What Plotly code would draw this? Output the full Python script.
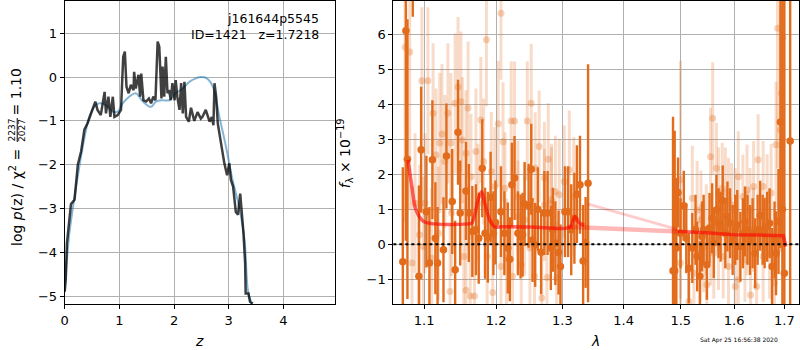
import plotly.graph_objects as go
import math

# ---------------- Left panel data: log p(z) ----------------
z_grid = [0.00, 0.02, 0.04, 0.085, 0.115, 0.18, 0.24, 0.30, 0.36, 0.42,
          0.48, 0.56, 0.60, 0.66, 0.73, 0.755, 0.80, 0.835, 0.88, 0.91,
          0.97, 1.03, 1.07, 1.10, 1.13, 1.17, 1.21, 1.26, 1.27, 1.30,
          1.35, 1.38, 1.40, 1.44, 1.49, 1.54, 1.58, 1.62, 1.66, 1.70,
          1.73, 1.75, 1.77, 1.79, 1.82, 1.85, 1.88, 1.91, 1.94, 1.97,
          2.01, 2.03, 2.06, 2.10, 2.13, 2.16, 2.19, 2.22, 2.27, 2.31,
          2.37, 2.43, 2.49, 2.52, 2.58, 2.65, 2.69, 2.72, 2.74, 2.77,
          2.80, 2.83, 2.88, 2.92, 2.97, 3.01, 3.04, 3.08, 3.13, 3.17,
          3.21, 3.24, 3.27, 3.30, 3.31, 3.36, 3.39, 3.44]
log_pz = [-4.9, -4.6, -3.8, -3.2, -2.9, -2.8, -2.0, -1.7, -1.2, -1.05,
          -0.83, -0.56, -0.75, -0.87, -0.34, -0.83, -0.45, -0.91, -0.45, -0.91,
          -0.87, -0.75, 0.46, 0.58, -0.22, -0.37, -0.18, -0.30, 0.12, -0.26,
          0.05, -0.45, 0.08, -0.53, -0.56, -0.49, -0.60, -0.45, -0.53, 0.81,
          0.69, 0.24, -0.49, 0.24, -0.45, 0.46, -0.37, -0.30, -0.53, -0.14,
          -0.53, -0.07, -0.45, -0.75, -0.14, -0.83, -0.11, -0.91, -1.02, -0.70,
          -1.00, -0.80, -0.95, -0.91, -0.75, -1.02, -0.91, -1.10, -0.14, -0.45,
          -1.06, -1.29, -1.67, -1.97, -2.24, -1.97, -2.35, -2.50, -3.08, -3.14,
          -2.66, -3.11, -3.57, -4.25, -4.94, -4.94, -5.13, -5.17]

z_fit = [0.00, 0.02, 0.085, 0.21, 0.33, 0.45, 0.54, 0.63, 0.755, 0.88,
         0.97, 1.06, 1.18, 1.30, 1.43, 1.58, 1.67, 1.79, 1.91, 2.03,
         2.16, 2.28, 2.40, 2.49, 2.60, 2.71, 2.83, 2.95, 3.07, 3.19,
         3.29, 3.35, 3.42]
log_pz_fit = [-4.9, -4.5, -3.57, -2.5, -1.59, -0.91, -0.68, -0.60, -0.64, -0.79,
              -0.79, -0.60, -0.45, -0.37, -0.56, -0.68, -0.56, -0.53, -0.53, -0.37,
              -0.26, -0.11, -0.03, 0.0, -0.03, -0.22, -0.91, -1.59, -2.35, -2.96,
              -3.72, -4.86, -5.2]

z_ticks = [0, 1, 2, 3, 4]
pz_ticks = [-5, -4, -3, -2, -1, 0, 1]

# ---------------- Right panel data: spectrum ----------------
g102_wave = [1.072, 1.076, 1.078, 1.085, 1.093, 1.096, 1.103, 1.107, 1.111, 1.115,
             1.118, 1.126, 1.130, 1.138, 1.142, 1.146, 1.149, 1.157, 1.161, 1.166,
             1.171, 1.175, 1.180, 1.184, 1.188, 1.192, 1.196, 1.199, 1.207, 1.212,
             1.217, 1.220, 1.223, 1.227, 1.232, 1.236, 1.239, 1.242, 1.248, 1.252,
             1.254, 1.258, 1.262, 1.267, 1.272, 1.277, 1.282, 1.285, 1.289, 1.294,
             1.297, 1.304, 1.309, 1.314, 1.319, 1.323, 1.328, 1.333, 1.337, 1.341]
g102_flux = [-0.5, 6.10, 2.43, 7.5, -0.92, 2.70, 0.93, -0.54, 2.41, 0.17,
             -0.54, -0.16, 2.52, 1.22, -0.73, 3.20, 0.89, 1.52, 0.89, 0.36,
             0.41, 0.17, 2.17, 0.31, 0.20, 1.34, 0.31, 0.62, 0.93, 0.31,
             -0.11, -0.43, 1.70, 1.89, 0.31, 0.22, 0.27, 1.15, 1.10, 2.14,
             0.12, -0.02, 1.00, -0.23, 0.89, 0.89, -0.11, 0.41, 0.03, -0.24,
             -0.64, 0.93, 0.93, 0.41, 0.74, 1.43, 1.70, -0.48, 0.05, 1.74]
g102_err = [2.7, 6.0, 4.0, 1.0, 2.6, 1.8, 1.6, 1.6, 1.7, 1.6,
            1.6, 1.5, 1.5, 1.5, 1.4, 1.5, 1.5, 1.4, 1.4, 1.3,
            1.3, 1.3, 1.4, 1.3, 1.3, 1.3, 1.2, 1.2, 1.3, 1.2,
            1.3, 1.2, 1.2, 1.2, 1.2, 1.2, 1.2, 1.2, 1.2, 1.3,
            1.2, 1.2, 1.2, 1.2, 1.2, 1.2, 1.2, 1.2, 1.2, 1.2,
            1.2, 1.3, 1.3, 1.3, 1.3, 1.4, 1.4, 1.6, 1.3, 3.4]

g141_wave = [1.486, 1.489, 1.492, 1.495, 1.4995, 1.5055, 1.510, 1.5145, 1.521, 1.527,
             1.530, 1.535, 1.539, 1.542, 1.548, 1.553, 1.558, 1.561, 1.566, 1.570,
             1.574, 1.578, 1.583, 1.587, 1.592, 1.597, 1.602, 1.606, 1.612, 1.617,
             1.621, 1.626, 1.631, 1.636, 1.641, 1.646, 1.651, 1.656, 1.660, 1.665,
             1.670, 1.675, 1.680, 1.683, 1.688, 1.692, 1.696, 1.700, 1.712]
g141_flux = [-0.76, -0.76, -0.11, 1.48, 0.31, 1.10, 0.17, -0.69, -0.11, 0.41,
             -0.35, -0.92, 0.22, 0.41, -0.59, 0.46, 0.74, 0.03, 0.98, 0.60,
             0.50, 1.25, 0.31, 0.79, 0.60, 0.12, 0.41, 0.55, -0.07, 0.31,
             0.65, 0.41, 0.12, 0.31, -0.26, 0.41, 0.81, 0.41, 0.31, 0.50,
             0.60, -0.64, 0.12, -0.26, 0.65, 3.49, 1.0, -0.83, 2.95]
g141_err = [4.4, 4.0, 2.0, 1.0, 1.0, 1.0, 1.0, 1.0, 1.0, 1.0,
            1.0, 1.0, 1.0, 1.0, 1.0, 1.0, 1.0, 1.0, 1.0, 1.0,
            1.0, 1.0, 1.0, 1.0, 1.0, 1.0, 1.0, 1.0, 1.0, 1.0,
            1.0, 1.0, 1.0, 1.0, 1.0, 1.0, 1.0, 1.0, 1.0, 1.0,
            1.0, 1.1, 1.1, 1.2, 1.5, 3.6, 8.0, 8.0, 10.0]

faint1_wave = [1.075, 1.081, 1.084, 1.088, 1.094, 1.097, 1.099, 1.101, 1.105, 1.110,
               1.112, 1.116, 1.119, 1.121, 1.124, 1.128, 1.132, 1.135, 1.136, 1.137,
               1.142, 1.146, 1.150, 1.152, 1.154, 1.157, 1.157, 1.160, 1.163, 1.164,
               1.169, 1.171, 1.174, 1.178, 1.182, 1.186, 1.187, 1.193, 1.195, 1.198,
               1.203, 1.207, 1.207, 1.210, 1.213, 1.215, 1.222, 1.224, 1.227, 1.232,
               1.232, 1.237, 1.242, 1.246, 1.250, 1.252, 1.257, 1.258, 1.264, 1.268,
               1.272, 1.272, 1.276, 1.278, 1.283, 1.283, 1.289, 1.291, 1.295, 1.303,
               1.311, 1.318]
faint1_flux = [5.63, 5.49, -0.54, 1.17, 0.27, 4.67, -0.07, 1.17, 4.67, -0.40,
               3.74, 2.55, 0.31, 2.89, 3.15, 2.36, 3.74, -1.35, 2.89, 0.89,
               4.03, 4.49, 4.08, 2.98, -0.35, 2.60, -1.32, 3.89, -1.48, 1.93,
               -1.48, 2.65, 1.17, 3.55, 2.36, 5.84, -0.35, 2.08, -1.38, 1.65,
               3.44, 6.60, -0.64, 2.93, 1.60, -0.40, 3.52, -0.92, 3.52, 1.36,
               0.79, -0.59, 0.70, 3.52, -0.11, 4.03, -0.92, 2.17, 2.79, -1.54,
               1.89, 1.12, -0.95, 2.43, 1.27, 1.17, 1.50, -0.97, 1.41, 1.79,
               2.12, 1.36]
faint1_err = [5.0, 4.5, 2.2, 2.0, 2.0, 2.1, 2.0, 2.0, 2.1, 2.0,
              2.0, 1.9, 1.9, 2.0, 2.0, 1.9, 2.0, 1.9, 2.0, 1.8,
              2.0, 2.0, 2.0, 1.8, 1.8, 1.8, 1.8, 1.9, 1.8, 1.8,
              1.8, 1.8, 1.7, 1.8, 1.8, 1.9, 1.7, 1.7, 1.7, 1.7,
              1.8, 1.9, 1.7, 1.7, 1.6, 1.7, 1.7, 1.6, 1.7, 1.6,
              1.6, 1.6, 1.6, 1.7, 1.6, 1.7, 1.6, 1.6, 1.6, 1.6,
              1.6, 1.6, 1.6, 1.6, 1.6, 1.6, 1.6, 1.6, 1.6, 1.6,
              1.7, 1.7]

faint2_wave = [1.4995, 1.4995, 1.515, 1.521, 1.524, 1.530, 1.536, 1.537, 1.542, 1.547,
               1.548, 1.555, 1.555, 1.559, 1.561, 1.566, 1.570, 1.570, 1.577, 1.579,
               1.583, 1.589, 1.589, 1.595, 1.602, 1.602, 1.608, 1.608, 1.617, 1.621,
               1.625, 1.625, 1.631, 1.632, 1.638, 1.638, 1.644, 1.647, 1.657, 1.657,
               1.665, 1.670, 1.673, 1.680, 1.683, 1.686, 1.692, 1.694, 1.697]
faint2_flux = [1.84, -0.54, -1.64, 1.31, -0.83, 0.98, -0.26, 0.70, -0.07, 0.41,
               -1.16, 2.50, 0.12, 3.60, -0.26, 2.17, 1.46, -0.11, 1.60, -0.35,
               1.46, 1.27, -0.64, 1.12, 0.98, -1.21, 1.93, -1.02, 1.36, -0.45,
               1.55, 0.31, 0.98, -1.45, 1.65, 0.41, -1.21, 2.41, 1.65, -0.35,
               1.27, -0.26, 1.46, -1.11, 2.84, 6.17, 3.27, 4.31, 5.89]
faint2_err = [3.4, 2.0, 1.6, 1.5, 1.4, 1.4, 1.4, 1.4, 1.3, 1.3,
              1.3, 1.4, 1.3, 1.6, 1.3, 1.3, 1.3, 1.2, 1.3, 1.2,
              1.3, 1.2, 1.2, 1.2, 1.2, 1.2, 1.3, 1.2, 1.2, 1.2,
              1.3, 1.2, 1.2, 1.2, 1.3, 1.2, 1.2, 1.3, 1.3, 1.3,
              1.3, 1.3, 1.4, 1.5, 1.8, 4.0, 3.5, 4.5, 6.0]

model1_wave = [1.0787, 1.0838, 1.0892, 1.0992, 1.1147, 1.160, 1.165, 1.1742, 1.179, 1.1836,
               1.1908, 1.198, 1.208, 1.252, 1.303, 1.313, 1.320, 1.327, 1.335]
model1_flux = [2.41, 1.65, 0.98, 0.65, 0.58, 0.58, 0.60, 1.27, 1.50, 1.17,
               0.69, 0.49, 0.50, 0.49, 0.45, 0.50, 0.79, 0.60, 0.55]
gap_wave = [1.308, 1.494]
gap_flux = [0.50, 0.36]
edge_wave = [1.340, 1.4966]
edge_flux = [1.15, 0.41]
model2_wave = [1.494, 1.50, 1.561, 1.599, 1.65, 1.698, 1.703]
model2_flux = [0.36, 0.36, 0.31, 0.27, 0.26, 0.24, -0.07]

lam_ticks = [1.1, 1.2, 1.3, 1.4, 1.5, 1.6, 1.7]
flux_ticks = [-1, 0, 1, 2, 3, 4, 5, 6]

# ---------------- Styling ----------------
W, H = 800, 350
FONT = "DejaVu Sans"
DARK = "rgb(226,108,28)"
FAINT_BAR = "rgba(226,108,28,0.24)"
FAINT_MK = "rgba(226,108,28,0.30)"

def px(x):
    return x / W

def py(y):
    return 1 - y / H

fig = go.Figure()

# left panel
fig.add_trace(go.Scatter(x=z_fit, y=log_pz_fit, mode="lines", line_shape="spline",
                         line=dict(color="rgba(31,119,180,0.55)", width=2),
                         xaxis="x", yaxis="y", hoverinfo="skip"))
fig.add_trace(go.Scatter(x=z_grid, y=log_pz, mode="lines",
                         line=dict(color="rgba(0,0,0,0.75)", width=2.5),
                         xaxis="x", yaxis="y", hoverinfo="skip"))

# right panel faint points
for wv, fl, er in [(faint1_wave, faint1_flux, faint1_err), (faint2_wave, faint2_flux, faint2_err)]:
    fig.add_trace(go.Scatter(x=wv, y=fl, mode="markers",
                             marker=dict(color=FAINT_MK, size=7, line=dict(width=0)),
                             error_y=dict(type="data", array=er, visible=True, color=FAINT_BAR,
                                          thickness=3, width=0),
                             xaxis="x2", yaxis="y2", hoverinfo="skip"))
# right panel dark points
for wv, fl, er in [(g102_wave, g102_flux, g102_err), (g141_wave, g141_flux, g141_err)]:
    fig.add_trace(go.Scatter(x=wv, y=fl, mode="markers",
                             marker=dict(color=DARK, size=7.5, line=dict(width=0)),
                             error_y=dict(type="data", array=er, visible=True, color=DARK,
                                          thickness=2.4, width=0),
                             xaxis="x2", yaxis="y2", hoverinfo="skip"))
# models
fig.add_trace(go.Scatter(x=gap_wave, y=gap_flux, mode="lines",
                         line=dict(color="rgba(255,0,0,0.28)", width=4.5),
                         xaxis="x2", yaxis="y2", hoverinfo="skip"))
fig.add_trace(go.Scatter(x=edge_wave, y=edge_flux, mode="lines",
                         line=dict(color="rgba(255,0,0,0.2)", width=3),
                         xaxis="x2", yaxis="y2", hoverinfo="skip"))
fig.add_trace(go.Scatter(x=model1_wave, y=model1_flux, mode="lines", line_shape="spline",
                         line=dict(color="rgba(255,0,0,0.6)", width=3.5),
                         xaxis="x2", yaxis="y2", hoverinfo="skip"))
fig.add_trace(go.Scatter(x=model2_wave, y=model2_flux, mode="lines",
                         line=dict(color="rgba(255,0,0,0.6)", width=3.5),
                         xaxis="x2", yaxis="y2", hoverinfo="skip"))

axis_common = dict(showline=True, linecolor="black", linewidth=1, mirror=True,
                   ticks="outside", ticklen=4, tickcolor="black", tickwidth=1,
                   showgrid=True, gridcolor="#b0b0b0", gridwidth=1, zeroline=False,
                   tickfont=dict(family=FONT, size=13, color="black"))

ydom = [py(304), py(1)]
fig.update_layout(
    width=W, height=H, margin=dict(l=0, r=0, t=0, b=0),
    paper_bgcolor="white", plot_bgcolor="white", showlegend=False,
    xaxis=dict(domain=[px(61), px(333)], range=[0, 4.95], tickvals=z_ticks,
               anchor="y", **axis_common),
    yaxis=dict(domain=ydom, range=[-5.18, 1.735], tickvals=pz_ticks,
               anchor="x", **axis_common),
    xaxis2=dict(domain=[px(391.3), px(799.3)], type="log",
                range=[math.log10(1.0598), math.log10(1.731)],
                tickvals=lam_ticks, ticktext=[f"{t:.1f}" for t in lam_ticks],
                anchor="y2", **axis_common),
    yaxis2=dict(domain=ydom, range=[-1.71, 6.95], tickvals=flux_ticks,
                anchor="x2", **axis_common),
)

# zero line
fig.add_shape(type="line", xref="x2 domain", yref="y2", x0=0, x1=1, y0=0, y1=0,
              line=dict(color="black", width=2, dash="dot"))

# annotations
ann = []
ann.append(dict(x=px(319), y=py(19), text="j161644p5545", xanchor="right", yanchor="middle"))
ann.append(dict(x=px(319), y=py(35), text="ID=1421   z=1.7218", xanchor="right", yanchor="middle"))
for a in ann:
    a.update(xref="paper", yref="paper", showarrow=False, font=dict(family=FONT, size=12.5, color="black"))
    fig.add_annotation(**a)

def label(x, y, text, size=14, angle=0):
    fig.add_annotation(x=px(x), y=py(y), xref="paper", yref="paper", text=text,
                       showarrow=False, textangle=angle, xanchor="center", yanchor="middle",
                       font=dict(family=FONT, size=size, color="black"))

label(196, 341, "<i>z</i>")
label(594, 341, "<i>λ</i>")
label(12, 197, "log <i>p</i>(z) / χ<sup>2</sup> =", angle=-90)
label(8.5, 130, "2237", size=9, angle=-90)
label(18, 130, "2027", size=9, angle=-90)
label(12, 91.5, "= 1.10", angle=-90)
label(343, 153, "<i>f</i><sub>λ</sub> × 10<sup>−19</sup>", angle=-90)
label(739, 340, "Sat Apr 25 16:56:38 2020", size=6)

fig.add_shape(type="line", xref="paper", yref="paper", x0=px(13.3), x1=px(13.3),
              y0=py(142), y1=py(118), line=dict(color="black", width=1))

fig.write_html("out.html", config={"displayModeBar": False},
               post_script="document.body.style.margin='0';document.body.style.padding='0';")
